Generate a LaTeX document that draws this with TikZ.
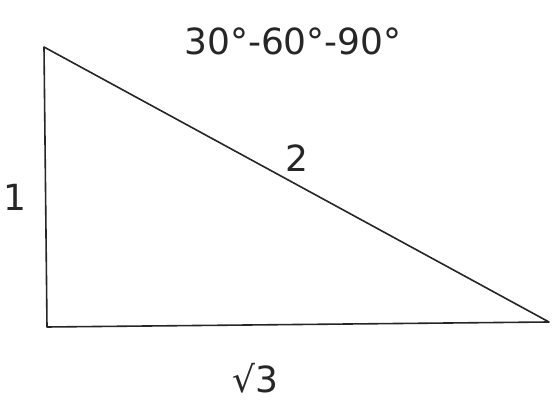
\documentclass[tikz,border=0pt]{standalone}
\usepackage{fontspec}
\setmainfont{DejaVu Sans}
\begin{document}
\begin{tikzpicture}[x=1pt,y=1pt,
  edge/.style={draw=black!85,line width=1.6pt,line join=round},
  lbl/.style={text=black!85,inner sep=0pt,font=\fontsize{36}{40}\selectfont}]
\useasboundingbox (0,0) rectangle (552,401);
\fill[white] (0,0) rectangle (552,401);
\coordinate (A) at (44,354);
\coordinate (B) at (47,74);
\coordinate (C) at (549,79);
\draw[edge] (A) -- (B) -- (C) -- cycle;
\node[lbl] (title) at (293,360) {30°-60°-90°};
\node[lbl] (one) at (15,204) {1};
\node[lbl] (two) at (297,243) {2};
\node[lbl] (root) at (255,23) {√3};
\end{tikzpicture}
\end{document}
